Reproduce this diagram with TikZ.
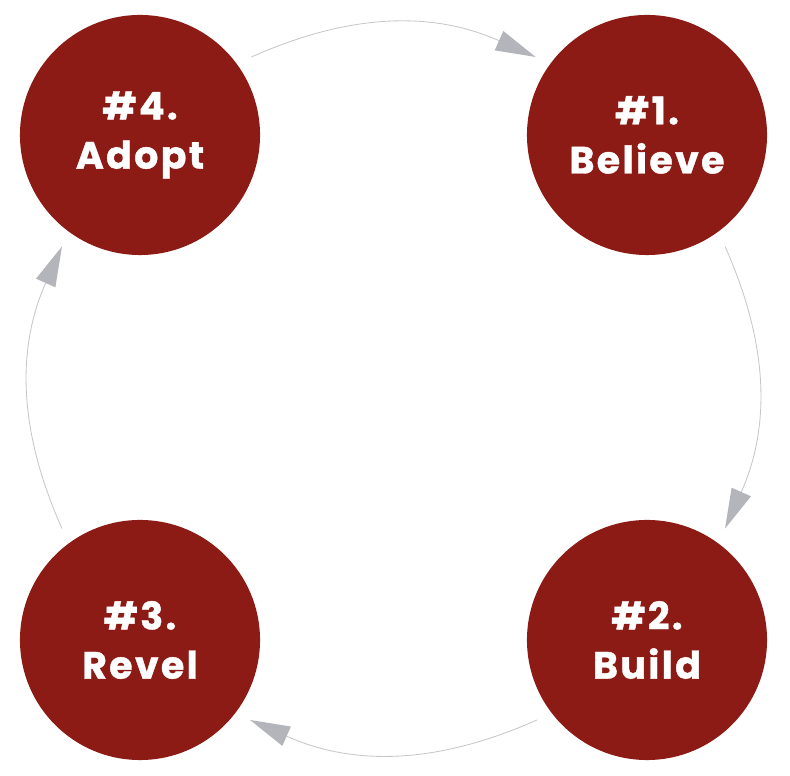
\documentclass[tikz,border=0pt]{standalone}
\usepackage{fontspec}
\setmainfont{Poppins}[BoldFeatures={FakeBold=1,LetterSpace=6}]
\usepackage{tikz}
\usetikzlibrary{arrows.meta}
\definecolor{stage}{HTML}{8C1A15}
\definecolor{linegray}{HTML}{C6C7CA}
\definecolor{tipgray}{HTML}{B4B5BA}

\begin{document}
\begin{tikzpicture}[x=0.025cm,y=0.025cm,
  st/.style={circle,fill=stage,minimum size=6cm,inner sep=0pt,outer sep=0.4cm,
    text=white,align=center,font=\fontsize{27}{35}\selectfont\bfseries},
  flow/.style={draw=linegray,line width=0.6pt,
    -{Triangle[length=1cm,width=0.53cm,color=tipgray,fill=tipgray,line width=0pt]},bend left=24}]
  \useasboundingbox (0,0) rectangle (790,776);
  % the four stages
  \node[st] (adopt)   at (140,641) {\#4.\\Adopt};
  \node[st] (believe) at (647,641) {\#1.\\Believe};
  \node[st] (build)   at (647,136) {\#2.\\Build};
  \node[st] (revel)   at (140,136) {\#3.\\Revel};
  % cycle
  \draw[flow] (adopt.35) to (believe.145);
  \draw[flow] (believe.-55) to (build.55);
  \draw[flow] (build.-144) to (revel.-36);
  \draw[flow] (revel.125) to (adopt.-125);
\end{tikzpicture}
\end{document}
